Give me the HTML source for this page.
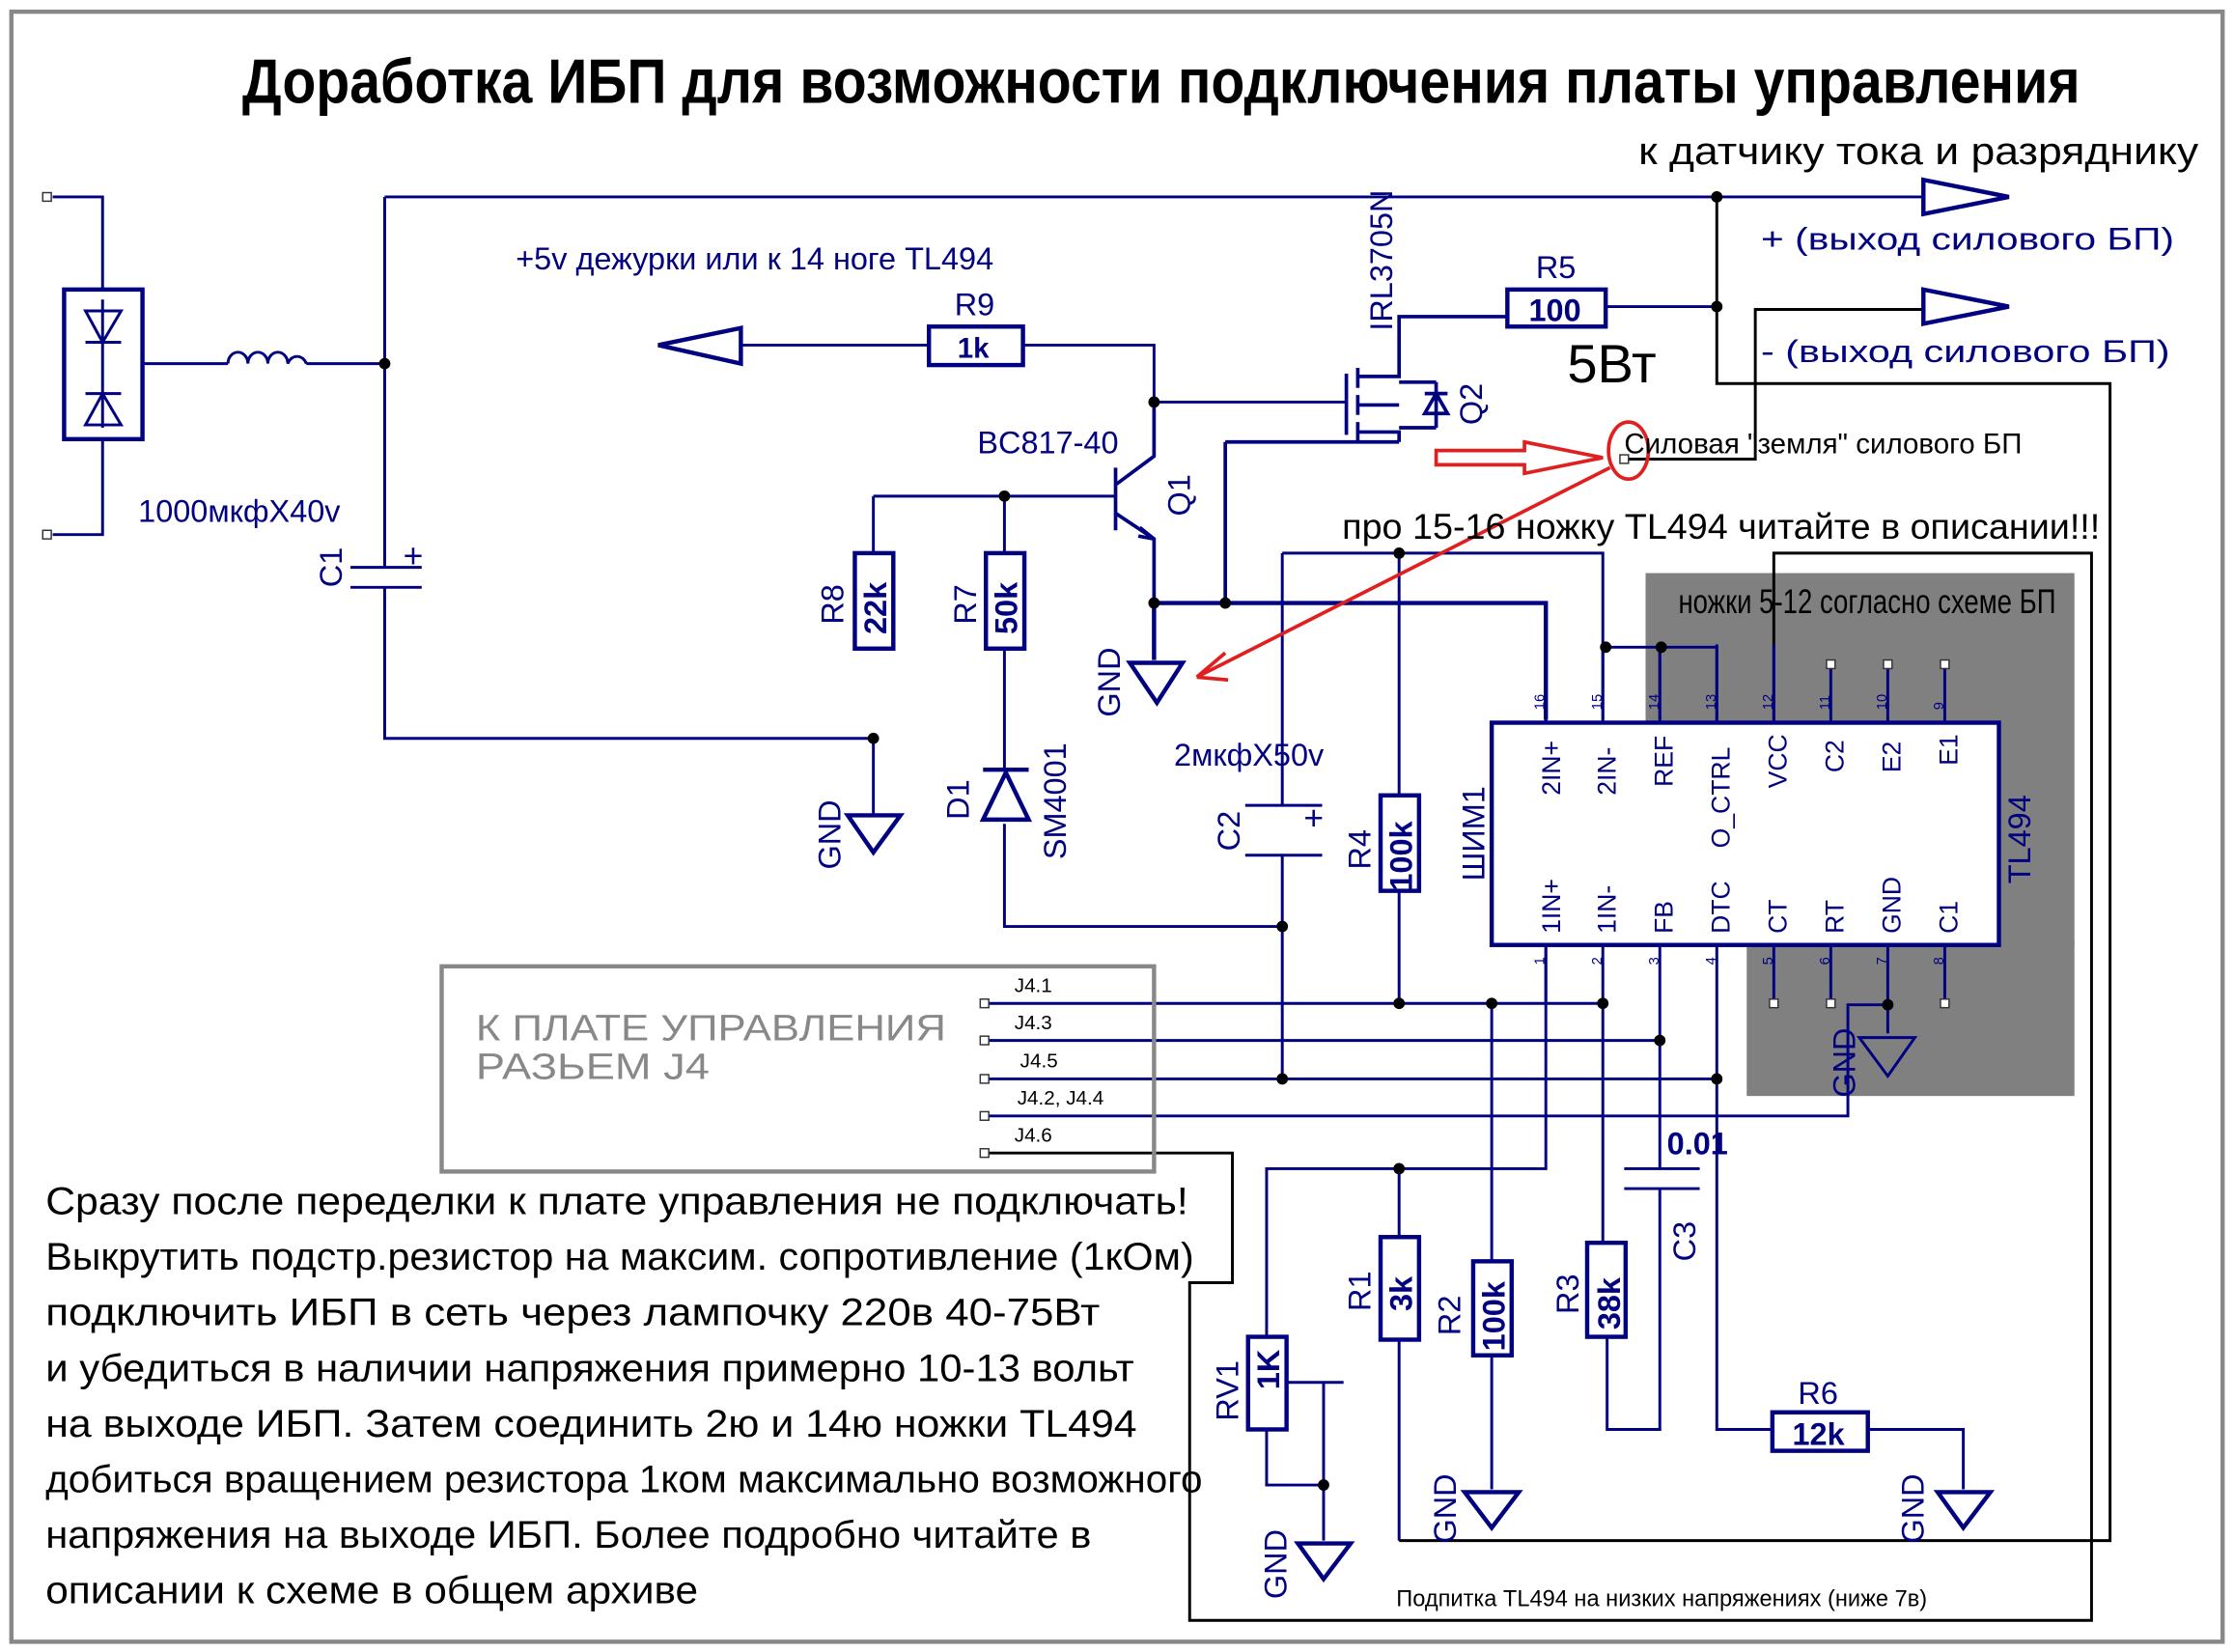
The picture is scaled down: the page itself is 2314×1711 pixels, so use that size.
<!DOCTYPE html>
<html><head><meta charset="utf-8"><style>html,body{margin:0;padding:0;background:#fff}svg{display:block}</style></head>
<body>
<svg xmlns="http://www.w3.org/2000/svg" width="2314" height="1711" viewBox="0 0 1568 1159" font-family="Liberation Sans, DejaVu Sans, sans-serif">
<rect x="0" y="0" width="1568" height="1159" fill="#fff"/>
<rect x="8" y="8" width="1552" height="1144" fill="none" stroke="#888" stroke-width="3"/>
<text x="170" y="72" font-size="44" font-weight="bold" textLength="1290" lengthAdjust="spacingAndGlyphs">Доработка ИБП для возможности подключения платы управления</text>
<text x="1150" y="115" font-size="27" textLength="393" lengthAdjust="spacingAndGlyphs">к датчику тока и разряднику</text>
<rect x="1155" y="402" width="301" height="262" fill="#808080"/>
<rect x="1226" y="660" width="230" height="109" fill="#808080"/>
<rect x="1047" y="507" width="356" height="156" fill="#fff"/>
<g fill="none" stroke="#000" stroke-width="2">
<path d="M1140 322H1232V217H1350M1205 138V269H1481V1081H982M1245 505V388H1468V1137H835V900H865V809H692"/>
</g>
<g fill="none" stroke="#000080" stroke-width="2">
<path d="M37 138H72V203M37 375H72V308"/>
<rect x="45" y="203" width="55" height="105" stroke-width="3"/>
<path d="M72 210V300M60 218H85L72 240ZM60 240H85M60 298H85L72 276ZM60 276H85M100 255H160M215 255H270"/>
<path d="M160 255a7 8 0 0 1 14 0a7 8 0 0 1 14 0a7 8 0 0 1 14 0a7 8 0 0 1 13 0"/>
<path d="M270 138H1350M270 138V398M270 412V518H613M246 398H296M246 412H296"/>
<path d="M613 518V572M613 348H783M613 348V388M705 348V388M705 455V540M705 578V650H900"/>
<rect x="600" y="388" width="27" height="67" stroke-width="3"/>
<rect x="692" y="388" width="27" height="67" stroke-width="3"/>
<path d="M595 572H632L613 598Z" stroke-width="3"/>
<path d="M690 540H722M690 575H722L706 542Z" stroke-width="3"/>
<path d="M783 328V372M783 340L810 320V282M783 360L810 378V423M800 370L810 378L799 376" stroke-width="2.5"/>
<path d="M810 423H1085V505M810 423V463M793 465H830L812 493Z" stroke-width="3"/>
<path d="M520 242H652M718 242H810V282H945"/>
<rect x="652" y="229" width="66" height="27" stroke-width="3"/>
<path d="M462 242L520 230V255Z" stroke-width="3"/>
<path d="M945 262V305M953 258V272M953 277V291M953 296V310M953 264H982V222H1058M953 303H982V310M953 284H982M860 310H982M860 310V423M1008 268V300M1000 290H1016L1008 276ZM1000 276H1016M982 268H1008M982 300H1008" stroke-width="2.5"/>
<path d="M1127 215H1205"/>
<rect x="1058" y="203" width="69" height="26" stroke-width="3"/>
<path d="M1350 126L1410 138L1350 150ZM1350 203L1410 215L1350 227Z" stroke-width="3"/>
<path d="M900 388H1125V505M982 388V558M1125 454H1205V505M1165 454V505M900 388V565M900 600V760M874 565H928M874 600H928"/>
<rect x="969" y="558" width="27" height="67" stroke-width="3"/>
<path d="M982 625V704"/>
<rect x="1047" y="507" width="356" height="156" stroke-width="3"/>
<path d="M1085 452V507M1125 452V507M1165 452V507M1205 452V507M1245 452V507M1285 465V507M1325 465V507M1365 465V507M1085 663V705M1125 663V705M1165 663V730M1205 663V757M1245 663V705M1285 663V705M1325 663V705M1365 663V705"/>
<path d="M692 704H1125M692 730H1165M692 757H1205M692 783H1297V705H1325M1085 663V820H889V938M1125 705V872M1047 704V885M1165 730V820M1165 834V1003H1128V938M1205 757V1003H1244M1311 1003H1378V1045M982 820V868M982 940V1081M1047 951V1045M1325 705V725M1305 728H1344L1325 755Z"/>
<path d="M1140 820H1193M1140 834H1193"/>
<rect x="969" y="868" width="27" height="72" stroke-width="3"/>
<rect x="1034" y="885" width="27" height="66" stroke-width="3"/>
<rect x="1114" y="872" width="27" height="66" stroke-width="3"/>
<rect x="1244" y="991" width="67" height="27" stroke-width="3"/>
<rect x="876" y="938" width="27" height="65" stroke-width="3"/>
<path d="M889 1003V1042H929V1081M903 970H943M929 970V1042"/>
<path d="M1028 1047H1066L1047 1072ZM1360 1047H1397L1378 1072ZM911 1083H948L929 1108Z" stroke-width="3"/>
</g>
<g fill="#000">
<circle cx="270" cy="255" r="4"/><circle cx="613" cy="518" r="4"/><circle cx="705" cy="348" r="4"/><circle cx="810" cy="282" r="4"/><circle cx="860" cy="423" r="4"/><circle cx="810" cy="423" r="4"/><circle cx="1205" cy="215" r="4"/><circle cx="1205" cy="138" r="4"/><circle cx="982" cy="388" r="4"/><circle cx="1127" cy="454" r="4"/><circle cx="1166" cy="454" r="4"/><circle cx="900" cy="650" r="4"/><circle cx="982" cy="704" r="4"/><circle cx="1047" cy="704" r="4"/><circle cx="1125" cy="704" r="4"/><circle cx="1165" cy="730" r="4"/><circle cx="900" cy="757" r="4"/><circle cx="1205" cy="757" r="4"/><circle cx="1325" cy="705" r="4"/><circle cx="982" cy="820" r="4"/><circle cx="929" cy="1042" r="4"/>
</g>
<g fill="#fff" stroke="#333" stroke-width="1">
<rect x="30" y="135" width="6" height="6"/><rect x="30" y="372" width="6" height="6"/>
<rect x="688" y="701" width="6" height="6"/><rect x="688" y="727" width="6" height="6"/><rect x="688" y="754" width="6" height="6"/><rect x="688" y="780" width="6" height="6"/><rect x="688" y="806" width="6" height="6"/>
<rect x="1282" y="463" width="6" height="6"/><rect x="1322" y="463" width="6" height="6"/><rect x="1362" y="463" width="6" height="6"/>
<rect x="1242" y="701" width="6" height="6"/><rect x="1282" y="701" width="6" height="6"/><rect x="1362" y="701" width="6" height="6"/>
<rect x="1137" y="319" width="6" height="6"/>
</g>
<rect x="310" y="678" width="500" height="144" fill="none" stroke="#888" stroke-width="3"/>
<g fill="none" stroke="#e02020" stroke-width="2.5">
<path d="M1008 316H1070V310L1125 321L1070 332V326H1008Z"/>
<ellipse cx="1143" cy="316" rx="14" ry="20"/>
<path d="M1130 328L840 475M840 475L860 458M840 475L862 477"/>
</g>
<g fill="#000080" font-size="22">
<text x="362" y="189">+5v дежурки или к 14 ноге TL494</text>
<text x="670" y="221">R9</text><text x="672" y="251" font-size="20" font-weight="bold">1k</text>
<text x="1078" y="195">R5</text><text x="1073" y="225" font-weight="bold">100</text>
<text x="1236" y="175" textLength="290" lengthAdjust="spacingAndGlyphs">+ (выход силового БП)</text>
<text x="1236" y="254" textLength="287" lengthAdjust="spacingAndGlyphs">- (выход силового БП)</text>
<text x="686" y="318">BC817-40</text>
<text x="97" y="366">1000мкфX40v</text>
<text x="824" y="537">2мкфX50v</text>
<text x="1262" y="985">R6</text><text x="1258" y="1014" font-weight="bold">12k</text>
<text x="1170" y="810" font-weight="bold">0.01</text>
<text x="283" y="398" font-size="24">+</text><text x="915" y="582" font-size="24">+</text>
<g font-size="22">
<text transform="translate(240,412) rotate(-90)">C1</text>
<text transform="translate(592,438) rotate(-90)">R8</text>
<text transform="translate(622,445) rotate(-90)" font-weight="bold">22k</text>
<text transform="translate(685,438) rotate(-90)">R7</text>
<text transform="translate(714,445) rotate(-90)" font-weight="bold">50k</text>
<text transform="translate(590,610) rotate(-90)">GND</text>
<text transform="translate(786,503) rotate(-90)">GND</text>
<text transform="translate(680,575) rotate(-90)">D1</text>
<text transform="translate(748,603) rotate(-90)">SM4001</text>
<text transform="translate(835,362) rotate(-90)">Q1</text>
<text transform="translate(977,232) rotate(-90)">IRL3705N</text>
<text transform="translate(1040,298) rotate(-90)">Q2</text>
<text transform="translate(870,597) rotate(-90)">C2</text>
<text transform="translate(962,610) rotate(-90)">R4</text>
<text transform="translate(991,625) rotate(-90)" font-weight="bold">100k</text>
<text transform="translate(1042,618) rotate(-90)">ШИМ1</text>
<text transform="translate(1425,620) rotate(-90)">TL494</text>
<text transform="translate(1302,770) rotate(-90)">GND</text>
<text transform="translate(1190,885) rotate(-90)">C3</text>
<text transform="translate(962,920) rotate(-90)">R1</text>
<text transform="translate(991,920) rotate(-90)" font-weight="bold">3k</text>
<text transform="translate(1025,937) rotate(-90)">R2</text>
<text transform="translate(1056,948) rotate(-90)" font-weight="bold">100k</text>
<text transform="translate(1108,922) rotate(-90)">R3</text>
<text transform="translate(1137,933) rotate(-90)" font-weight="bold">38k</text>
<text transform="translate(869,997) rotate(-90)">RV1</text>
<text transform="translate(898,975) rotate(-90)" font-weight="bold">1K</text>
<text transform="translate(1022,1083) rotate(-90)">GND</text>
<text transform="translate(1350,1083) rotate(-90)">GND</text>
<text transform="translate(903,1122) rotate(-90)">GND</text>
</g>
<g font-size="18">
<text transform="translate(1095,558) rotate(-90)">2IN+</text>
<text transform="translate(1134,558) rotate(-90)">2IN-</text>
<text transform="translate(1174,552) rotate(-90)">REF</text>
<text transform="translate(1214,595) rotate(-90)">O_CTRL</text>
<text transform="translate(1254,553) rotate(-90)">VCC</text>
<text transform="translate(1294,542) rotate(-90)">C2</text>
<text transform="translate(1334,542) rotate(-90)">E2</text>
<text transform="translate(1374,537) rotate(-90)">E1</text>
<text transform="translate(1095,655) rotate(-90)">1IN+</text>
<text transform="translate(1134,655) rotate(-90)">1IN-</text>
<text transform="translate(1174,655) rotate(-90)">FB</text>
<text transform="translate(1214,655) rotate(-90)">DTC</text>
<text transform="translate(1254,655) rotate(-90)">CT</text>
<text transform="translate(1294,655) rotate(-90)">RT</text>
<text transform="translate(1334,655) rotate(-90)">GND</text>
<text transform="translate(1374,655) rotate(-90)">C1</text>
</g>
<g font-size="10">
<text transform="translate(1084,498) rotate(-90)">16</text><text transform="translate(1124,498) rotate(-90)">15</text><text transform="translate(1164,498) rotate(-90)">14</text><text transform="translate(1204,498) rotate(-90)">13</text><text transform="translate(1244,498) rotate(-90)">12</text><text transform="translate(1284,498) rotate(-90)">11</text><text transform="translate(1324,498) rotate(-90)">10</text><text transform="translate(1364,498) rotate(-90)">9</text>
<text transform="translate(1084,677) rotate(-90)">1</text><text transform="translate(1124,677) rotate(-90)">2</text><text transform="translate(1164,677) rotate(-90)">3</text><text transform="translate(1204,677) rotate(-90)">4</text><text transform="translate(1244,677) rotate(-90)">5</text><text transform="translate(1284,677) rotate(-90)">6</text><text transform="translate(1324,677) rotate(-90)">7</text><text transform="translate(1364,677) rotate(-90)">8</text>
</g>
</g>
<g fill="#000">
<text x="1100" y="268" font-size="38">5Вт</text>
<text x="1140" y="318" font-size="20">Силовая "земля" силового БП</text>
<text x="942" y="378" font-size="25" textLength="532" lengthAdjust="spacingAndGlyphs">про 15-16 ножку TL494 читайте в описании!!!</text>
<text x="1178" y="430" font-size="24" textLength="265" lengthAdjust="spacingAndGlyphs">ножки 5-12 согласно схеме БП</text>
<g font-size="14"><text x="712" y="696">J4.1</text><text x="712" y="722">J4.3</text><text x="716" y="749">J4.5</text><text x="714" y="775">J4.2, J4.4</text><text x="712" y="801">J4.6</text></g>
<text x="980" y="1127" font-size="16">Подпитка TL494 на низких напряжениях (ниже 7в)</text>
<g font-size="27">
<text x="32" y="852" textLength="802" lengthAdjust="spacingAndGlyphs">Сразу после переделки к плате управления не подключать!</text>
<text x="32" y="891" textLength="806" lengthAdjust="spacingAndGlyphs">Выкрутить подстр.резистор на максим. сопротивление (1кОм)</text>
<text x="32" y="930" textLength="740" lengthAdjust="spacingAndGlyphs">подключить ИБП в сеть через лампочку 220в 40-75Вт</text>
<text x="32" y="969" textLength="764" lengthAdjust="spacingAndGlyphs">и убедиться в наличии напряжения примерно 10-13 вольт</text>
<text x="32" y="1008" textLength="766" lengthAdjust="spacingAndGlyphs">на выходе ИБП. Затем соединить 2ю и 14ю ножки TL494</text>
<text x="32" y="1047" textLength="812" lengthAdjust="spacingAndGlyphs">добиться вращением резистора 1ком максимально возможного</text>
<text x="32" y="1086" textLength="734" lengthAdjust="spacingAndGlyphs">напряжения на выходе ИБП. Более подробно читайте в</text>
<text x="32" y="1125" textLength="458" lengthAdjust="spacingAndGlyphs">описании к схеме в общем архиве</text>
</g>
</g>
<g fill="#888" font-size="26"><text x="334" y="730" textLength="330" lengthAdjust="spacingAndGlyphs">К ПЛАТЕ УПРАВЛЕНИЯ</text><text x="334" y="757" textLength="164" lengthAdjust="spacingAndGlyphs">РАЗЬЕМ J4</text></g>
</svg>
</body></html>
